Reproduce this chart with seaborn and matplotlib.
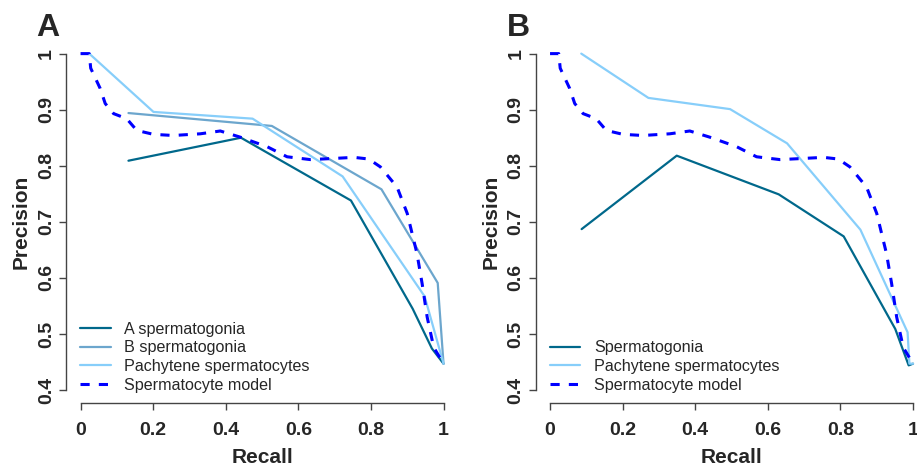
import numpy as np
import pandas as pd
import matplotlib
matplotlib.use("Agg")
import matplotlib.pyplot as plt
import seaborn as sns

# --- datos ---
# Panel A
a_sg_recall = [0.132, 0.442, 0.745, 0.915, 0.968, 1.0]
a_sg_prec = [0.809, 0.850, 0.738, 0.545, 0.474, 0.447]

b_sg_recall = [0.132, 0.527, 0.829, 0.984, 1.0]
b_sg_prec = [0.894, 0.871, 0.758, 0.591, 0.447]

pach_a_recall = [0.024, 0.201, 0.474, 0.722, 0.948, 1.0]
pach_a_prec = [1.0, 0.896, 0.884, 0.781, 0.567, 0.447]

# Panel B
sg_recall = [0.087, 0.349, 0.630, 0.809, 0.951, 0.988, 1.0]
sg_prec = [0.687, 0.818, 0.749, 0.674, 0.509, 0.444, 0.447]

pach_b_recall = [0.086, 0.271, 0.496, 0.653, 0.855, 0.985, 0.99, 1.0]
pach_b_prec = [1.0, 0.921, 0.901, 0.840, 0.686, 0.503, 0.447, 0.447]

# modelo de espermatocitos (igual en ambos paneles)
model_recall = [0.0, 0.024, 0.028, 0.054, 0.068, 0.091, 0.127, 0.155, 0.201,
                0.256, 0.330, 0.385, 0.440, 0.514, 0.569, 0.633, 0.697, 0.753,
                0.794, 0.826, 0.872, 0.900, 0.927, 0.941, 0.955, 0.973, 1.0]
model_prec = [1.0, 1.0, 0.974, 0.938, 0.911, 0.893, 0.884, 0.863, 0.856,
              0.854, 0.857, 0.862, 0.851, 0.834, 0.816, 0.811, 0.813, 0.815,
              0.812, 0.798, 0.762, 0.715, 0.643, 0.590, 0.530, 0.476, 0.447]

x_ticks = [0, 0.2, 0.4, 0.6, 0.8, 1]
x_tick_labels = ["0", "0.2", "0.4", "0.6", "0.8", "1"]
y_ticks = [0.4, 0.5, 0.6, 0.7, 0.8, 0.9, 1]
y_tick_labels = ["0.4", "0.5", "0.6", "0.7", "0.8", "0.9", "1"]

sns.set_style("white")
plt.rcParams['font.family'] = ['Liberation Sans', 'DejaVu Sans']

c_dark = "#00688B"     # deepskyblue4
c_mid = "#6CA6CD"      # skyblue3
c_light = "#87CEFA"    # lightskyblue
c_model = "#0000FF"

fig = plt.figure(figsize=(9.17, 4.67), dpi=100)
ax_a = fig.add_axes([0.072, 0.136, 0.4275, 0.778])
ax_b = fig.add_axes([0.584, 0.136, 0.4275, 0.778])


def draw(ax, series):
    for label, rec, prec, color, dashed in series:
        df = pd.DataFrame({"Recall": rec, "Precision": prec})
        sns.lineplot(data=df, x="Recall", y="Precision", ax=ax, sort=False,
                     estimator=None, color=color, label=label,
                     lw=2.2 if dashed else 1.6)
        if dashed:
            ax.lines[-1].set_dashes((3, 3))
    ax.set_xlim(-0.04, 1.04)
    ax.set_ylim(0.376, 1.024)
    for s in ["top", "right"]:
        ax.spines[s].set_visible(False)
    ax.spines["left"].set_bounds(0.4, 1.0)
    ax.spines["bottom"].set_bounds(0, 1.0)
    for s in ["left", "bottom"]:
        ax.spines[s].set_color("#444444")
        ax.spines[s].set_linewidth(1.0)
    ax.set_xticks(x_ticks)
    ax.set_xticklabels(x_tick_labels, fontsize=14, fontweight="bold")
    ax.set_yticks(y_ticks)
    ax.set_yticklabels(y_tick_labels, fontsize=14, fontweight="bold",
                       rotation=90, va="center")
    ax.tick_params(axis="both", direction="out", length=5, width=1,
                   color="#444444", left=True, bottom=True)
    ax.tick_params(axis="x", pad=8)
    ax.tick_params(axis="y", pad=3)
    ax.set_xlabel("Recall", fontsize=15, fontweight="bold", labelpad=7)
    ax.set_ylabel("Precision", fontsize=15, fontweight="bold", labelpad=5)
    ax.legend(loc="lower left", bbox_to_anchor=(0.036, 0.03), frameon=False,
              fontsize=11.6, handlelength=1.9, handletextpad=0.85,
              labelspacing=0.22, borderpad=0, borderaxespad=0)


draw(ax_a, [
    ("A spermatogonia", a_sg_recall, a_sg_prec, c_dark, False),
    ("B spermatogonia", b_sg_recall, b_sg_prec, c_mid, False),
    ("Pachytene spermatocytes", pach_a_recall, pach_a_prec, c_light, False),
    ("Spermatocyte model", model_recall, model_prec, c_model, True),
])
draw(ax_b, [
    ("Spermatogonia", sg_recall, sg_prec, c_dark, False),
    ("Pachytene spermatocytes", pach_b_recall, pach_b_prec, c_light, False),
    ("Spermatocyte model", model_recall, model_prec, c_model, True),
])

fig.text(48 / 917, 1 - 28 / 467, "A", fontsize=23, fontweight="bold",
         ha="center", va="center")
fig.text(518 / 917, 1 - 28 / 467, "B", fontsize=23, fontweight="bold",
         ha="center", va="center")

fig.savefig("out.png", dpi=100)
